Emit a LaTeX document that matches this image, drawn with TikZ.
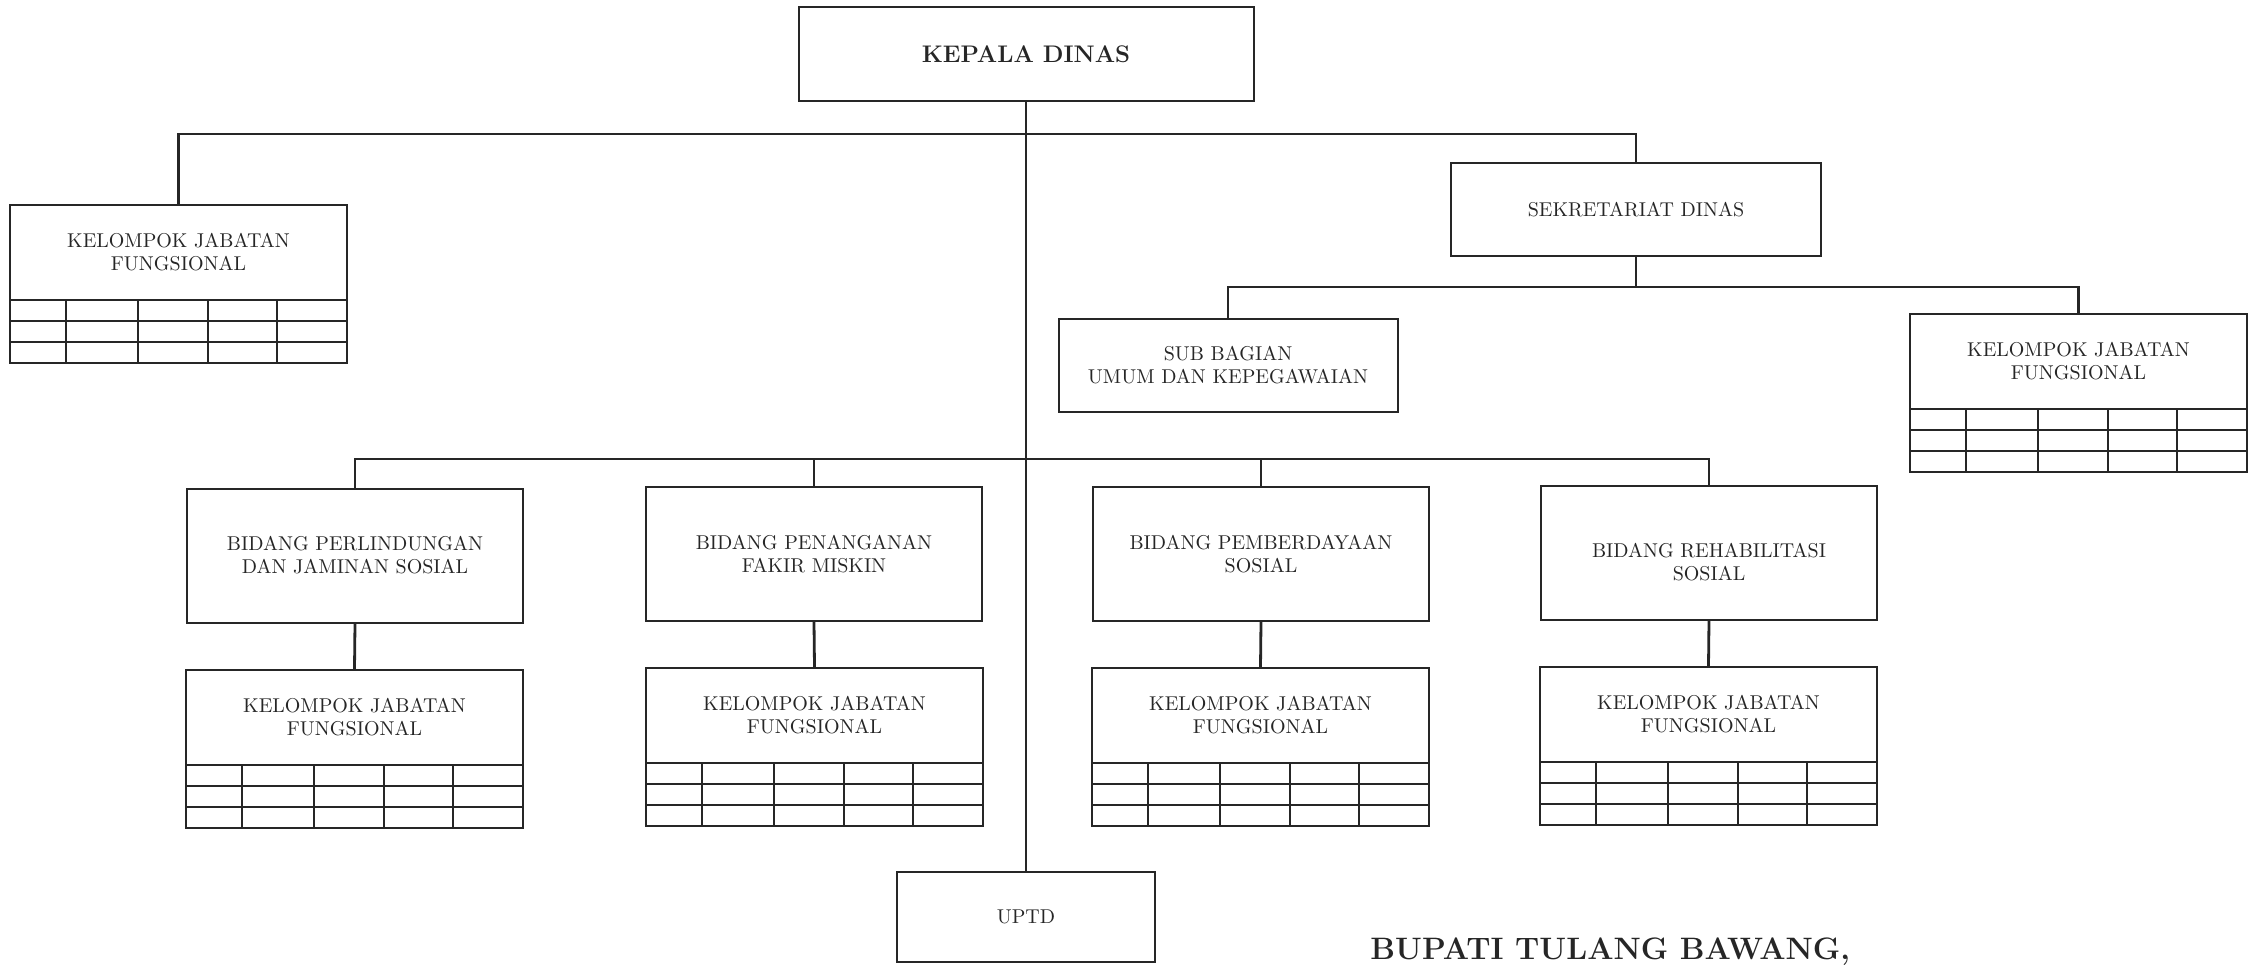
\documentclass[tikz,border=0pt]{standalone}
\usepackage{tikz}
\definecolor{ink}{gray}{0.15}
\newcommand\myfontN{\fontsize{10}{11.5}\selectfont}
\newcommand\myfontB{\fontsize{12}{14}\selectfont\bfseries}
\newcommand\myfontC{\fontsize{15.5}{18}\selectfont\bfseries}
\tikzset{
  box/.style={draw=ink, line width=1pt, inner sep=0pt, align=center, font=\myfontN, text=ink},
  txt/.style={inner sep=0pt, align=center, font=\myfontN, text=ink},
  conn/.style={draw=ink, line width=1.4pt},
  gridln/.style={draw=ink, line width=0.9pt},
  bidbox/.style={box, minimum width=168pt, minimum height=67pt},
}
\newcommand\kjfgroup[3]{%
  \node[box, minimum width=168.5pt, minimum height=79pt] (#1) at ({#2+168.5},{#3+79}) {};
  \node[txt] (#1t) at ({#2+168.5},{#3+47.5}) {KELOMPOK JABATAN\\FUNGSIONAL};
  \foreach \yy in {95,116,137} \draw[gridln] (#2,{#3+\yy}) -- ({#2+337},{#3+\yy});
  \foreach \xx in {56,128,198,267} \draw[gridln] ({#2+\xx},{#3+95}) -- ({#2+\xx},{#3+158});
}
\begin{document}
\begin{tikzpicture}[x=0.5pt,y=-0.5pt]
\fill[white] (0,0) rectangle (2256,965);
\useasboundingbox (0,0) rectangle (2256,965);

% top
\node[box, font=\myfontB, minimum width=227.5pt, minimum height=47pt] (kepala) at (1026,54) {KEPALA DINAS};
\node[box, minimum width=185pt, minimum height=46.5pt] (sek) at (1636,209.5) {SEKRETARIAT DINAS};
\node[box, minimum width=169.5pt, minimum height=46.5pt] (subbag) at (1228,365.5) {SUB BAGIAN\\UMUM DAN KEPEGAWAIAN};

\kjfgroup{kjfL}{10}{205}
\kjfgroup{kjfR}{1910}{314}

% bidang
\node[bidbox] (bid1) at (355,555.5) {BIDANG PERLINDUNGAN\\DAN JAMINAN SOSIAL};
\node[bidbox] (bid2) at (814,554) {BIDANG PENANGANAN\\FAKIR MISKIN};
\node[bidbox] (bid3) at (1261,554) {BIDANG PEMBERDAYAAN\\SOSIAL};
\node[bidbox] (bid4) at (1709,552.5) {};
\node[txt] (bid4t) at ([yshift=-5pt]bid4.center) {BIDANG REHABILITASI\\SOSIAL};

\kjfgroup{kjf1}{186}{670}
\kjfgroup{kjf2}{646}{668}
\kjfgroup{kjf3}{1092}{668}
\kjfgroup{kjf4}{1540}{667}

\node[box, minimum width=129pt, minimum height=45pt] (uptd) at (1026,917) {UPTD};

\node[inner sep=0pt, anchor=base west, font=\myfontC, text=ink] (bupati) at (1370,959) {BUPATI TULANG BAWANG,};

% bus coordinates
\coordinate (busA) at (0,134);
\coordinate (busB) at (0,287);
\coordinate (busC) at (0,459);

% connectors
\draw[conn] (kepala.south) -- (uptd.north);
\draw[conn] (kjfL.north) -- (kjfL.north |- busA) -| (sek.north);
\draw[conn] (sek.south) -- (sek.south |- busB);
\draw[conn] (subbag.north) -- (subbag.north |- busB) -| (kjfR.north);
\draw[conn] (bid1.north) -- (bid1.north |- busC) -| (bid4.north);
\draw[conn] (bid2.north) -- (bid2.north |- busC);
\draw[conn] (bid3.north) -- (bid3.north |- busC);
\draw[conn] (bid1.south) -- (kjf1.north);
\draw[conn] (bid2.south) -- (kjf2.north);
\draw[conn] (bid3.south) -- (kjf3.north);
\draw[conn] (bid4.south) -- (kjf4.north);
\end{tikzpicture}
\end{document}
